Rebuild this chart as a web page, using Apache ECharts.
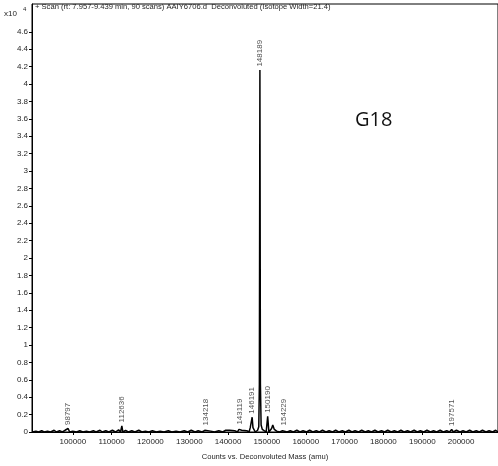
<!DOCTYPE html>
<html>
<head>
<meta charset="utf-8">
<script src="https://cdn.jsdelivr.net/npm/echarts@6/dist/echarts.min.js"></script>
<style>
  html, body { margin: 0; padding: 0; background: #fff; }
  #chart { width: 498px; height: 466px; }
</style>
</head>
<body>
<div id="chart"></div>
<script>
// Deconvoluted mass spectrum (intensity in units of 10^4 counts)
const traceMass = [
  89600, 90500, 91200, 92000, 92600, 93500, 94300, 95200, 95800, 96600,
  97300, 98000, 98400, 98797, 99200, 100000, 101000, 101800, 102600, 103500,
  104400, 105300, 106000, 107000, 107600, 108500, 109300, 110200, 111000, 111800,
  112300, 112636, 112900, 113600, 114300, 115200, 116000, 117000, 117800, 118700,
  119600, 120500, 121500, 122500, 123500, 124600, 125500, 126600, 127600, 128700,
  129600, 130500, 131500, 132300, 133300, 134000, 134218, 134500, 135500, 136500,
  137600, 138600, 139400, 139900, 140400, 140900, 141700, 142400, 142800, 143119,
  143500, 144000, 144800, 145400, 145700, 146000, 146191, 146400, 146700, 147000,
  147600, 147900, 148050, 148189, 148320, 148500, 148800, 149300, 149800, 150190,
  150500, 151200, 151500, 151900, 152500, 153300, 154000, 154229, 154500, 155200,
  156000, 156800, 157700, 158500, 159300, 160200, 161000, 161800, 162700, 163500,
  164300, 165200, 166000, 166900, 167700, 168500, 169400, 170200, 171100, 171900,
  172700, 173600, 174400, 175300, 176100, 176900, 177800, 178600, 179500, 180300,
  181100, 182000, 182800, 183700, 184500, 185300, 186200, 187000, 187900, 188700,
  189500, 190400, 191200, 192100, 192900, 193700, 194600, 195400, 196300, 197000,
  197571, 198000, 198800, 199700, 200500, 201300, 202200, 203000, 203900, 204700,
  205500, 206400, 207200, 208100, 208900, 209500
];
const traceIntensity = [
  0.00, 0.01, 0.00, 0.015, 0.00, 0.01, 0.00, 0.02, 0.00, 0.015,
  0.00, 0.02, 0.00, 0.04, 0.00, 0.01, 0.00, 0.015, 0.00, 0.01,
  0.00, 0.015, 0.00, 0.02, 0.00, 0.015, 0.00, 0.02, 0.00, 0.025,
  0.00, 0.07, 0.00, 0.02, 0.00, 0.015, 0.00, 0.02, 0.00, 0.01,
  0.00, 0.015, 0.00, 0.01, 0.00, 0.015, 0.00, 0.01, 0.00, 0.015,
  0.00, 0.02, 0.00, 0.015, 0.00, 0.02, 0.035, 0.00, 0.01, 0.00,
  0.015, 0.00, 0.02, 0.035, 0.02, 0.00, 0.015, 0.00, 0.03, 0.045,
  0.02, 0.00, 0.015, 0.00, 0.05, 0.05, 0.17, 0.05, 0.04, 0.00,
  0.02, 0.06, 0.55, 4.16, 0.55, 0.08, 0.03, 0.02, 0.00, 0.18,
  0.00, 0.04, 0.08, 0.03, 0.01, 0.00, 0.015, 0.035, 0.015, 0.00,
  0.015, 0.00, 0.02, 0.00, 0.015, 0.00, 0.02, 0.00, 0.015, 0.00,
  0.02, 0.00, 0.015, 0.00, 0.02, 0.00, 0.015, 0.00, 0.02, 0.00,
  0.015, 0.00, 0.02, 0.00, 0.015, 0.00, 0.02, 0.00, 0.015, 0.00,
  0.02, 0.00, 0.015, 0.00, 0.02, 0.00, 0.015, 0.00, 0.02, 0.00,
  0.015, 0.00, 0.02, 0.00, 0.015, 0.00, 0.02, 0.00, 0.015, 0.00,
  0.03, 0.00, 0.02, 0.00, 0.015, 0.00, 0.02, 0.00, 0.015, 0.00,
  0.02, 0.00, 0.015, 0.00, 0.02, 0.00
];

// Annotated peaks
const peakMass = [98797, 112636, 134218, 143119, 146191, 148189, 150190, 154229, 197571];
const peakIntensity = [0.04, 0.07, 0.035, 0.045, 0.17, 4.16, 0.18, 0.035, 0.03];

// Axis tick labels
const xTicks = [100000, 110000, 120000, 130000, 140000, 150000, 160000, 170000, 180000, 190000, 200000];
const yTicks = [0, 0.2, 0.4, 0.6, 0.8, 1, 1.2, 1.4, 1.6, 1.8, 2, 2.2, 2.4, 2.6, 2.8, 3, 3.2, 3.4, 3.6, 3.8, 4, 4.2, 4.4, 4.6];

const titleText = '+ Scan (rt: 7.957-9.439 min, 90 scans) AAIY6706.d  Deconvoluted (Isotope Width=21.4)';
const xAxisTitle = 'Counts vs. Deconvoluted Mass (amu)';
const sampleName = 'G18';

const FONT = 'Liberation Sans, Arial, sans-serif';
const TEXT = '#262626';

const chart = echarts.init(document.getElementById('chart'), null, { renderer: 'canvas' });

chart.setOption({
  animation: false,
  backgroundColor: '#fff',
  grid: {
    left: 32, top: 4, right: -2, bottom: 32,
    show: true, borderColor: '#000', borderWidth: 1,
    containLabel: false
  },
  xAxis: {
    type: 'value',
    min: 89500, max: 209500,
    name: xAxisTitle,
    nameLocation: 'middle',
    nameGap: 21,
    nameTextStyle: { fontFamily: FONT, fontSize: 7.6, color: TEXT },
    axisLine: { show: true, lineStyle: { color: '#000', width: 1 } },
    axisTick: { show: true, length: 3, lineStyle: { color: '#000' }, customValues: xTicks },
    axisLabel: {
      fontFamily: FONT, fontSize: 8, color: TEXT, margin: 6,
      customValues: xTicks,
      formatter: v => String(Math.round(v))
    },
    splitLine: { show: false }
  },
  yAxis: {
    type: 'value',
    min: 0, max: 4.92,
    axisLine: { show: true, lineStyle: { color: '#000', width: 1 } },
    axisTick: { show: true, length: 3, lineStyle: { color: '#000' }, customValues: yTicks },
    axisLabel: {
      fontFamily: FONT, fontSize: 8, color: TEXT, margin: 4,
      customValues: yTicks,
      formatter: v => String(Math.round(v * 10) / 10)
    },
    splitLine: { show: false }
  },
  graphic: [
    { type: 'text', left: 4, top: 10, style: { text: 'x10', fontFamily: FONT, fontSize: 8, fill: TEXT } },
    { type: 'text', left: 23, top: 6, style: { text: '4', fontFamily: FONT, fontSize: 6, fill: TEXT } },
    { type: 'text', left: 35, top: 3, style: { text: titleText, fontFamily: FONT, fontSize: 7.6, fill: TEXT } },
    { type: 'text', left: 355, top: 110, style: { text: sampleName, fontFamily: 'Open Sans, sans-serif', fontSize: 20, fill: '#111' } }
  ],
  series: [
    {
      type: 'line',
      data: traceMass.map((m, i) => [m, traceIntensity[i]]),
      showSymbol: false,
      lineStyle: { color: '#000', width: 1.5 },
      z: 3
    },
    {
      type: 'scatter',
      data: peakMass.map((m, i) => [m, peakIntensity[i]]),
      symbol: 'circle',
      symbolSize: 1,
      itemStyle: { color: 'rgba(0,0,0,0)' },
      label: {
        show: true,
        position: 'top',
        distance: 3,
        rotate: 90,
        align: 'left',
        verticalAlign: 'middle',
        fontFamily: FONT,
        fontSize: 8,
        color: TEXT,
        formatter: p => String(p.value[0])
      },
      z: 4
    }
  ]
});
</script>
</body>
</html>
